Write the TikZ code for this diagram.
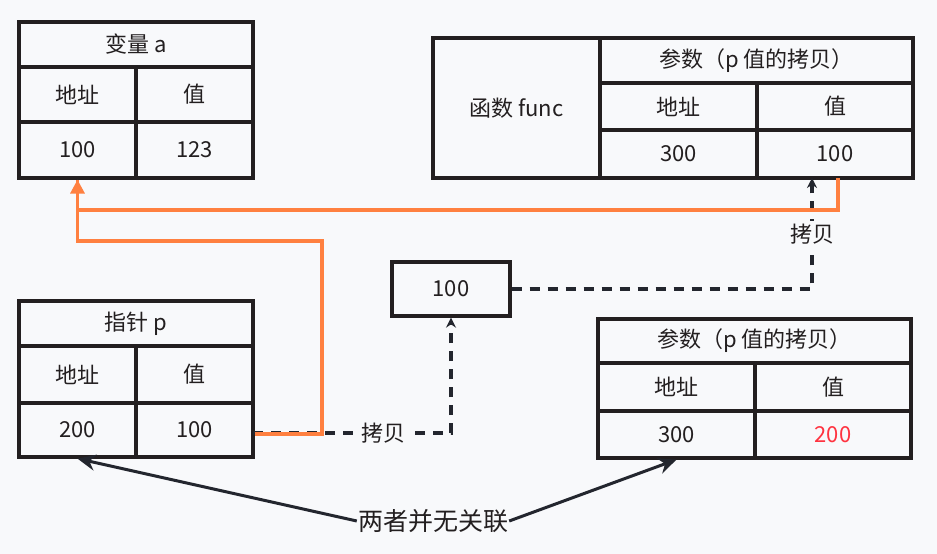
\documentclass[tikz,border=0pt]{standalone}
\usepackage{fontspec}
\setmainfont{Noto Sans CJK SC}
\usetikzlibrary{arrows.meta,calc}
\definecolor{bg}{HTML}{F8F9FB}
\definecolor{ink}{HTML}{231F20}
\definecolor{orangeline}{HTML}{FF8040}
\definecolor{redtext}{HTML}{FF3340}
\definecolor{arrowink}{HTML}{23262E}
\begin{document}
\begin{tikzpicture}[x=1pt,y=-1pt,
  cell/.style={draw=ink,line width=3.2pt,inner sep=0pt,font=\fontsize{22}{26}\selectfont,text=ink},
  orangeln/.style={draw=orangeline,line width=3.2pt},
  dashln/.style={draw=arrowink,line width=3.2pt,dash pattern=on 10pt off 8pt},
  solidln/.style={draw=arrowink,line width=3pt},
  lbl/.style={fill=bg,inner sep=4pt,font=\fontsize{22}{26}\selectfont,text=ink}
]
\useasboundingbox[fill=bg] (0,0) rectangle (937,554);
% variable a
\node[cell,minimum width=234pt,minimum height=45pt] (aTitle) at (136,44.5) {变量 a};
\node[cell,minimum width=117pt,minimum height=55pt] (aAddr) at (77.5,94.5) {地址};
\node[cell,minimum width=117pt,minimum height=55pt] (aVal) at (194.5,94.5) {值};
\node[cell,minimum width=117pt,minimum height=56pt] (a100) at (77.5,150) {100};
\node[cell,minimum width=117pt,minimum height=56pt] (a123) at (194.5,150) {123};
% func
\node[cell,minimum width=167pt,minimum height=140pt] (funcL) at (516.5,108) {函数 func};
\node[cell,minimum width=313pt,minimum height=45pt] (fTitle) at (756.5,60.5) {参数（p 值的拷贝）};
\node[cell,minimum width=157pt,minimum height=47pt] (fAddr) at (678.5,106.5) {地址};
\node[cell,minimum width=156pt,minimum height=47pt] (fVal) at (835,106.5) {值};
\node[cell,minimum width=157pt,minimum height=48pt] (f300) at (678.5,154) {300};
\node[cell,minimum width=156pt,minimum height=48pt] (f100) at (835,154) {100};
% copy box
\node[cell,minimum width=118pt,minimum height=54pt] (copy) at (451,289) {100};
% pointer p
\node[cell,minimum width=234pt,minimum height=45pt] (pTitle) at (136,323.5) {指针 p};
\node[cell,minimum width=117pt,minimum height=57pt] (pAddr) at (77.5,374.5) {地址};
\node[cell,minimum width=117pt,minimum height=57pt] (pVal) at (194.5,374.5) {值};
\node[cell,minimum width=117pt,minimum height=54pt] (p200) at (77.5,430) {200};
\node[cell,minimum width=117pt,minimum height=54pt] (p100) at (194.5,430) {100};
% bottom param
\node[cell,minimum width=313pt,minimum height=44pt] (bTitle) at (754.5,341) {参数（p 值的拷贝）};
\node[cell,minimum width=157pt,minimum height=48pt] (bAddr) at (676.5,387) {地址};
\node[cell,minimum width=156pt,minimum height=48pt] (bVal) at (833,387) {值};
\node[cell,minimum width=157pt,minimum height=47pt] (b300) at (676.5,434.5) {300};
\node[cell,minimum width=156pt,minimum height=47pt,text=redtext] (b200) at (833,434.5) {200};
% relation text
\node[inner sep=1pt,font=\fontsize{25}{29}\selectfont,text=ink] (rel) at (433,521) {两者并无关联};
% coordinates
\coordinate (pOut) at (253,433);
\coordinate (orCorner) at (322,434);
\coordinate (orTop) at (322,241);
\coordinate (fTarget) at (812,178);
\coordinate (fOrange) at (838,178);
% dashed copies
\draw[dashln,-{Stealth[length=10pt,width=10pt]}] (pOut) -| (copy.south) node[lbl,pos=0.33] {拷贝};
\draw[dashln,-{Stealth[length=10pt,width=10pt]}] (copy.east) -| (fTarget) node[lbl,pos=0.745] {拷贝};
% orange lines
\draw[orangeln,-{Triangle[length=14pt,width=14pt]}] (fOrange) -- ++(0,32) -| (a100.south);
\draw[orangeln,line join=miter] ($(p100.east)+(0,4)$) -- (orCorner) -- (orTop) -| (a100.south);
% relation arrows
\draw[solidln,-{Stealth[length=18pt,width=16pt]}] (rel.west) -- (p200.south);
\draw[solidln,-{Stealth[length=18pt,width=16pt]}] (rel.east) -- (b300.south);
\end{tikzpicture}
\end{document}
